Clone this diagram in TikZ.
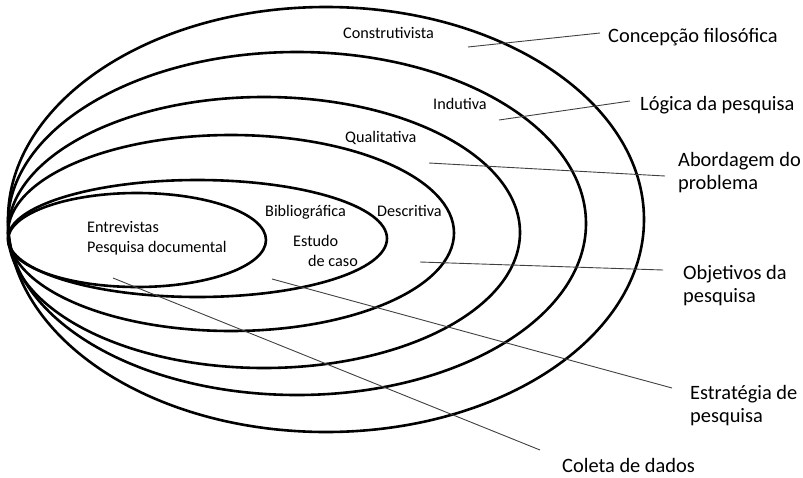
\documentclass[tikz,border=0pt]{standalone}
\usepackage{fontspec}
\setmainfont{Carlito}
\tikzset{
	ring/.style = {line width=2.6pt},
	leader/.style = {line width=0.9pt, black!75},
	small/.style = {inner sep=0pt, anchor=west, font=\fontsize{16.2}{19.5}\selectfont, align=left},
	big/.style = {inner sep=0pt, anchor=west, font=\fontsize{20.4}{23}\selectfont, align=left}
}
\begin{document}
\begin{tikzpicture}[x=1pt,y=-1pt]
	\useasboundingbox (0,0) rectangle (803,477);

	% nested ellipses, all touching at the left
	\draw[ring] (137,240) ellipse [x radius=129pt, y radius=47pt];
	\draw[ring] (197.5,238.5) ellipse [x radius=189.5pt, y radius=58.5pt];
	\draw[ring] (231,233) ellipse [x radius=223pt, y radius=98pt];
	\draw[ring] (264,232.5) ellipse [x radius=256pt, y radius=135.5pt];
	\draw[ring] (297,223.5) ellipse [x radius=289pt, y radius=171.5pt];
	\draw[ring] (326,219.5) ellipse [x radius=318pt, y radius=212.5pt];

	% texts inside
	\node[small] (constr) at (343,33) {Construtivista};
	\node[small] (indut) at (433,104) {Indutiva};
	\node[small] (quali) at (345,138) {Qualitativa};
	\node[small] (descr) at (377,211) {Descritiva};
	\node[small] (biblio) at (265,212) {Bibliográfica};
	\node[small] (estudo) at (293,251) {Estudo\\\hspace{15pt}de caso};
	\node[small] (entrev) at (87,238) {Entrevistas\\Pesquisa documental};

	% texts outside
	\node[big] (concep) at (608,37) {Concepção filosófica};
	\node[big] (logica) at (640,105) {Lógica da pesquisa};
	\node[big] (abord) at (678,173) {Abordagem do\\problema};
	\node[big] (objet) at (683,286) {Objetivos da\\pesquisa};
	\node[big] (estrat) at (690,406) {Estratégia de\\pesquisa};
	\node[big] (coleta) at (562,465) {Coleta de dados};

	\coordinate (p1) at (468,47);
	\coordinate (p2) at (499,120);
	\coordinate (p3) at (429,163);
	\coordinate (p4) at (420,262);
	\coordinate (p5) at (272,279);
	\coordinate (p6) at (113,278);

	\draw[leader] (p1) -- ([shift={(-8,-4)}]concep.west);
	\draw[leader] (p2) -- ([shift={(-10,-4)}]logica.west);
	\draw[leader] (p3) -- ([shift={(-13,3)}]abord.west);
	\draw[leader] (p4) -- ([shift={(-20,-16)}]objet.west);
	\draw[leader] (p5) -- ([shift={(-18,-18)}]estrat.west);
	\draw[leader] (p6) -- ([shift={(-22,-15)}]coleta.west);
\end{tikzpicture}
\end{document}
